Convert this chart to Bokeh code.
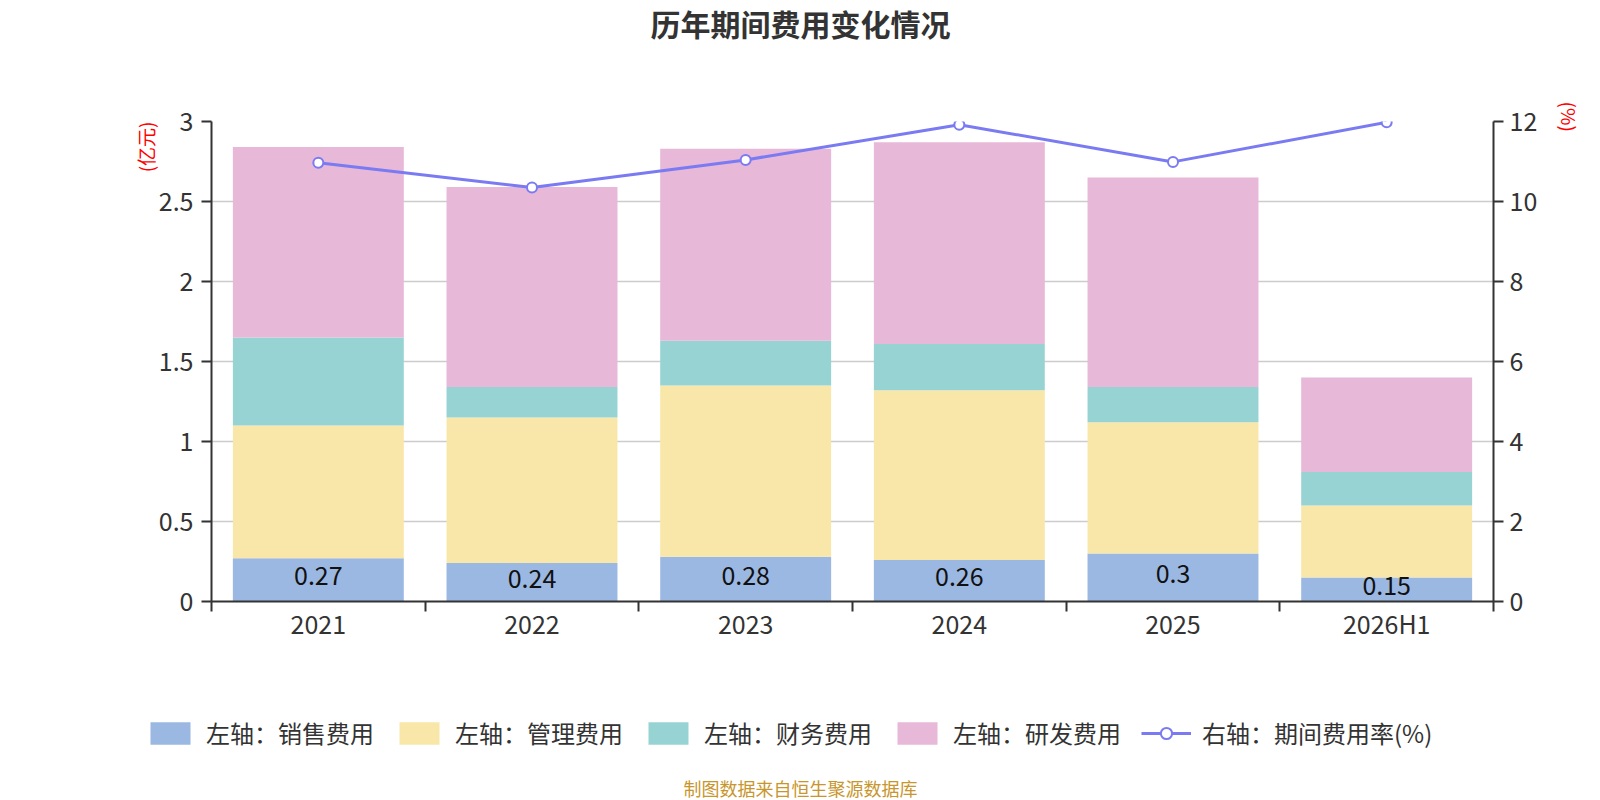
from bokeh.plotting import figure
from bokeh.layouts import column
from bokeh.models import (Range1d, LinearAxis, FixedTicker, Legend, LegendItem, Title, Label,
                          ColumnDataSource, NumeralTickFormatter)
from bokeh.embed import file_html
from bokeh.resources import INLINE
from bokeh.core.properties import value

# ---------------- data ----------------
categories = ["2021", "2022", "2023", "2024", "2025", "2026H1"]
sales   = [0.27, 0.24, 0.28, 0.26, 0.30, 0.15]   # 销售费用 (亿元)
admin   = [0.83, 0.91, 1.07, 1.06, 0.82, 0.45]   # 管理费用 (亿元)
finance = [0.55, 0.19, 0.28, 0.29, 0.22, 0.21]   # 财务费用 (亿元)
rnd     = [1.19, 1.25, 1.20, 1.26, 1.31, 0.59]   # 研发费用 (亿元)
rate    = [10.97, 10.35, 11.04, 11.92, 10.99, 11.98]  # 期间费用率 (%)
series_names = ["左轴：销售费用", "左轴：管理费用", "左轴：财务费用", "左轴：研发费用"]
rate_name = "右轴：期间费用率(%)"
left_ticks = [0, 0.5, 1, 1.5, 2, 2.5, 3]
right_ticks = [0, 2, 4, 6, 8, 10, 12]
title_text = "历年期间费用变化情况"
source_text = "制图数据来自恒生聚源数据库"
left_unit = "(亿元)"
right_unit = "(%)"

# ---------------- styles ----------------
FONT = "Noto Sans CJK SC"
colors = ["#9BB8E2", "#F8E7A9", "#98D3D4", "#E7B8D8"]
LINE_C = "#7A7AF2"
AX_C = "#333333"
W = 1600
H_TOP, H_MAIN, H_LEG = 60, 620, 120
Y0 = H_TOP                              # page y where the chart figure starts
FL, FR, FT, FB = 211, 1493, 121, 601   # frame edges in page pixels
NAN = float("nan")


def strip(height):
    f = figure(width=W, height=height, output_backend="svg", toolbar_location=None, title=None,
               x_axis_type=None, y_axis_type=None, x_range=Range1d(0, W),
               y_range=Range1d(0, height), min_border=0)
    f.frame_align = False
    f.outline_line_color = None
    f.xgrid.visible = False
    f.ygrid.visible = False
    f.background_fill_color = "white"
    f.border_fill_color = "white"
    return f


# ---------------- title strip ----------------
tf = strip(H_TOP)
tf.add_layout(Label(x=W / 2, y=H_TOP - 22.5, x_units="screen", y_units="screen",
                    text=title_text, text_font=FONT, text_font_size="30px",
                    text_font_style="bold", text_color=AX_C,
                    text_align="center", text_baseline="middle"))

# ---------------- main chart ----------------
p = figure(width=W, height=H_MAIN, output_backend="svg", toolbar_location=None, title=None,
           x_range=Range1d(0, len(categories)), y_range=Range1d(left_ticks[0], left_ticks[-1]),
           min_border_left=FL, min_border_right=W - FR,
           min_border_top=FT - Y0, min_border_bottom=Y0 + H_MAIN - FB)
p.frame_align = False
p.outline_line_color = None
p.background_fill_color = "white"
p.border_fill_color = "white"
p.extra_y_ranges = {"rate": Range1d(right_ticks[0], right_ticks[-1])}

xs = [i + 0.5 for i in range(len(categories))]
src = ColumnDataSource(dict(
    x=xs, sales=sales, admin=admin, finance=finance, rnd=rnd, rate=rate,
    label=[f"{v:g}" for v in sales], label_y=[v / 2 for v in sales]))

bars = p.vbar_stack(["sales", "admin", "finance", "rnd"], x="x", width=0.8,
                    fill_color=colors, line_color=None, source=src)

p.text(x="x", y="label_y", text="label", source=src, text_align="center",
       text_baseline="middle", text_font_size="25px", text_color="#111111",
       text_font=value(FONT), y_offset=-4)

line_r = p.line("x", "rate", source=src, y_range_name="rate", line_color=LINE_C, line_width=3)
pts = p.scatter("x", "rate", source=src, y_range_name="rate", marker="circle", size=10,
                fill_color="white", line_color=LINE_C, line_width=2)


def style_axis(ax):
    ax.axis_line_color = AX_C
    ax.axis_line_width = 2
    ax.major_tick_line_color = AX_C
    ax.major_tick_line_width = 2
    ax.major_tick_in = 0
    ax.major_tick_out = 10
    ax.minor_tick_line_color = None
    ax.major_label_text_font = FONT
    ax.major_label_text_font_size = "25px"
    ax.major_label_text_color = AX_C


xa = p.xaxis[0]
style_axis(xa)
xa.ticker = FixedTicker(ticks=xs, minor_ticks=list(range(len(categories) + 1)))
xa.major_label_overrides = {float(x): c for x, c in zip(xs, categories)}
xa.major_tick_out = 0
xa.minor_tick_line_color = AX_C
xa.minor_tick_line_width = 2
xa.minor_tick_in = 0
xa.minor_tick_out = 10
xa.major_label_standoff = -7

ya = p.yaxis[0]
style_axis(ya)
ya.ticker = FixedTicker(ticks=left_ticks)
ya.formatter = NumeralTickFormatter(format="0.[0]")
ya.major_label_standoff = 8

ra = LinearAxis(y_range_name="rate", ticker=FixedTicker(ticks=right_ticks))
style_axis(ra)
ra.major_label_standoff = 6
p.add_layout(ra, "right")

p.xgrid.visible = False
p.ygrid.ticker = FixedTicker(ticks=left_ticks)
p.ygrid.grid_line_color = "#CCCCCC"
p.ygrid.grid_line_width = 1.3

# axis unit names
has_standoff = "standoff" in Title.properties()
lu = Title(text=left_unit, align="right", text_font=FONT, text_font_size="19px",
           text_font_style="normal", text_color="red")
if has_standoff:
    lu.standoff = -7
p.add_layout(lu, "left")
ru = Title(text=right_unit, align="left", offset=-20, text_font=FONT, text_font_size="19px",
           text_font_style="normal", text_color="red")
if has_standoff:
    ru.standoff = 31
p.add_layout(ru, "right")

# ---------------- legend + source strip ----------------
lf = strip(H_LEG)
Y_LEG = Y0 + H_MAIN
# legend-only renderers (one undrawn NaN point each, so the legend has a row to style)
leg_bars = [lf.vbar(x=[NAN], top=[NAN], width=1, fill_color=c, line_color=None) for c in colors]
leg_line = lf.line(x=[NAN], y=[NAN], line_color=LINE_C, line_width=3)
leg_pts = lf.scatter(x=[NAN], y=[NAN], marker="circle", size=10, fill_color="white",
                     line_color=LINE_C, line_width=2)
items = [LegendItem(label=n, renderers=[r]) for n, r in zip(series_names, leg_bars)]
items.append(LegendItem(label=rate_name, renderers=[leg_line, leg_pts]))
legend = Legend(items=items, orientation="horizontal",
                location=(145, H_LEG - (750 - Y_LEG)),
                glyph_width=50, glyph_height=28, label_standoff=11, spacing=20,
                padding=0, margin=0, border_line_color=None, background_fill_alpha=0,
                label_text_font=FONT, label_text_font_size="24px", label_text_color=AX_C)
lf.add_layout(legend)

lf.add_layout(Label(x=W / 2, y=H_LEG - (787 - Y_LEG), x_units="screen", y_units="screen",
                    text=source_text, text_font=FONT, text_font_size="18px",
                    text_color="#C8962D", text_align="center", text_baseline="middle"))

open("out.html", "w").write(file_html(column(tf, p, lf, spacing=0), INLINE))
